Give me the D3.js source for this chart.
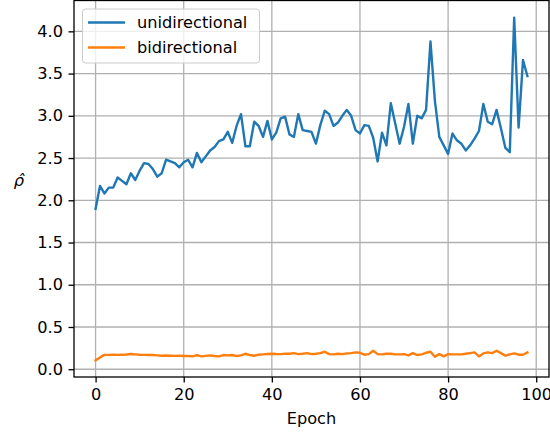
<!DOCTYPE html>
<html>
<head>
<meta charset="utf-8" />
<script src="https://cdn.jsdelivr.net/npm/d3@7"></script>
<style>
  body { margin: 0; background: #fff; }
  text { font-family: "DejaVu Sans", sans-serif; }
</style>
</head>
<body>
<script>
// epochs 0..98
var epochs = d3.range(0, 99);

var unidirectional = [
  1.90, 2.17, 2.08, 2.15, 2.15, 2.27, 2.23, 2.19, 2.32, 2.24,
  2.35, 2.44, 2.43, 2.37, 2.28, 2.32, 2.48, 2.46, 2.44, 2.39,
  2.45, 2.48, 2.39, 2.56, 2.45, 2.52, 2.59, 2.63, 2.70, 2.72,
  2.81, 2.68, 2.88, 3.02, 2.64, 2.64, 2.93, 2.88, 2.75, 2.94,
  2.72, 2.80, 2.97, 2.99, 2.78, 2.75, 3.02, 2.83, 2.82, 2.81,
  2.67, 2.89, 3.06, 3.02, 2.88, 2.92, 3.00, 3.07, 3.00, 2.83,
  2.79, 2.89, 2.88, 2.74, 2.46, 2.80, 2.65, 3.15, 2.91, 2.67,
  2.87, 3.14, 2.67, 3.00, 2.97, 3.07, 3.88, 3.18, 2.75, 2.65,
  2.55, 2.79, 2.71, 2.67, 2.59, 2.65, 2.73, 2.82, 3.14, 2.93,
  2.90, 3.07, 2.85, 2.62, 2.57, 4.16, 2.86, 3.66, 3.47
];

var bidirectional = [
  0.105, 0.14, 0.17, 0.17, 0.172, 0.17, 0.172, 0.175, 0.18, 0.176,
  0.172, 0.17, 0.168, 0.168, 0.164, 0.16, 0.162, 0.16, 0.158, 0.16,
  0.156, 0.158, 0.152, 0.168, 0.152, 0.158, 0.164, 0.156, 0.152, 0.168,
  0.164, 0.168, 0.156, 0.164, 0.183, 0.168, 0.16, 0.172, 0.176, 0.18,
  0.183, 0.18, 0.179, 0.185, 0.183, 0.191, 0.179, 0.183, 0.191, 0.179,
  0.183, 0.191, 0.207, 0.179, 0.176, 0.183, 0.179, 0.187, 0.191, 0.199,
  0.195, 0.172, 0.179, 0.219, 0.179, 0.176, 0.183, 0.183, 0.176, 0.176,
  0.179, 0.164, 0.191, 0.168, 0.176, 0.195, 0.207, 0.148, 0.179, 0.152,
  0.179, 0.176, 0.176, 0.176, 0.183, 0.191, 0.199, 0.152, 0.187, 0.199,
  0.191, 0.219, 0.191, 0.16, 0.176, 0.187, 0.172, 0.172, 0.199
];

var xTicks = [0, 20, 40, 60, 80, 100];
var yTicks = [0.0, 0.5, 1.0, 1.5, 2.0, 2.5, 3.0, 3.5, 4.0];
var seriesNames = ["unidirectional", "bidirectional"];
var colors = ["#1f77b4", "#ff7f0e"];

var width = 550, height = 434;
var plot = {left: 74, right: 549, top: 0.5, bottom: 377};
var fs = "16.2px";

var svg = d3.select("body").append("svg")
  .attr("width", width)
  .attr("height", height);

var x = d3.scaleLinear().domain([-4.9, 102.9]).range([plot.left, plot.right]);
var y = d3.scaleLinear().domain([-0.092, 4.365]).range([plot.bottom, plot.top]);

// grid
var grid = svg.append("g");
grid.selectAll(".gx").data(xTicks).enter().append("line")
  .attr("x1", d => x(d)).attr("x2", d => x(d))
  .attr("y1", plot.top).attr("y2", plot.bottom)
  .attr("stroke", "#b0b0b0").attr("stroke-width", 1.3);
grid.selectAll(".gy").data(yTicks).enter().append("line")
  .attr("x1", plot.left).attr("x2", plot.right)
  .attr("y1", d => y(d)).attr("y2", d => y(d))
  .attr("stroke", "#b0b0b0").attr("stroke-width", 1.3);

// lines
var allSeries = [unidirectional, bidirectional];
var line = d3.line().x((d, i) => x(epochs[i])).y(d => y(d));
allSeries.forEach(function(s, k) {
  svg.append("path")
    .datum(s)
    .attr("fill", "none")
    .attr("stroke", colors[k])
    .attr("stroke-width", 2.4)
    .attr("stroke-linejoin", "round")
    .attr("stroke-linecap", "square")
    .attr("d", line);
});

// axes
var xAxis = d3.axisBottom(x).tickValues(xTicks).tickSize(5.5).tickPadding(5.5).tickFormat(d3.format("d"));
var yAxis = d3.axisLeft(y).tickValues(yTicks).tickSize(5.5).tickPadding(5.5).tickFormat(d3.format(".1f"));

var gx = svg.append("g").attr("transform", `translate(0,${plot.bottom})`).call(xAxis);
var gy = svg.append("g").attr("transform", `translate(${plot.left},0)`).call(yAxis);
[gx, gy].forEach(function(g) {
  g.select(".domain").remove();
  g.selectAll(".tick line").attr("stroke", "#000").attr("stroke-width", 1.3);
  g.selectAll(".tick text").attr("fill", "#000").attr("font-size", fs)
    .attr("font-family", "DejaVu Sans");
});

// frame
svg.append("rect")
  .attr("x", plot.left).attr("y", plot.top)
  .attr("width", plot.right - plot.left).attr("height", plot.bottom - plot.top)
  .attr("fill", "none").attr("stroke", "#000").attr("stroke-width", 1.3);

// labels
svg.append("text")
  .attr("x", (plot.left + plot.right) / 2).attr("y", 424)
  .attr("text-anchor", "middle").attr("font-size", fs)
  .text("Epoch");

svg.append("text")
  .attr("x", 19).attr("y", 186)
  .attr("text-anchor", "middle").attr("font-size", fs)
  .attr("font-style", "italic")
  .text("\u03c1\u0302");

// legend
var legend = svg.append("g");
legend.append("rect")
  .attr("x", 82.5).attr("y", 9).attr("width", 177).attr("height", 54)
  .attr("rx", 3).attr("fill", "#fff").attr("fill-opacity", 0.8)
  .attr("stroke", "#cccccc").attr("stroke-width", 1);
seriesNames.forEach(function(name, k) {
  var ly = 22.5 + k * 25;
  legend.append("line")
    .attr("x1", 88).attr("x2", 125).attr("y1", ly).attr("y2", ly)
    .attr("stroke", colors[k]).attr("stroke-width", 2.4);
  legend.append("text")
    .attr("x", 137).attr("y", ly + 5.8)
    .attr("font-size", fs)
    .text(name);
});
</script>
</body>
</html>
